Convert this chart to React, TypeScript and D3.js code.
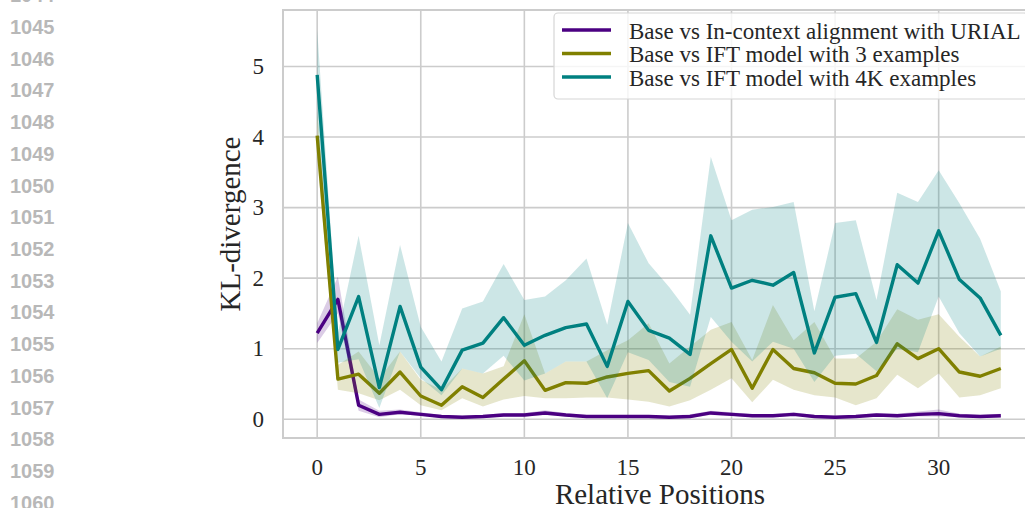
import React from "react";
import * as d3 from "d3";

// Relative positions 0..33
const positions: number[] = d3.range(0, 34);

// Base vs In-context alignment with URIAL
const urialMean = [1.22, 1.7, 0.2, 0.07, 0.1, 0.07, 0.04, 0.03, 0.04, 0.06, 0.06, 0.09, 0.06, 0.04, 0.04, 0.04, 0.04, 0.03, 0.04, 0.09, 0.07, 0.05, 0.05, 0.07, 0.04, 0.03, 0.04, 0.06, 0.05, 0.07, 0.08, 0.05, 0.04, 0.05];
const urialLow = [1.08, 1.5, 0.12, 0.03, 0.07, 0.05, 0.02, 0.01, 0.02, 0.04, 0.04, 0.06, 0.04, 0.02, 0.02, 0.02, 0.02, 0.01, 0.02, 0.06, 0.05, 0.03, 0.03, 0.05, 0.02, 0.01, 0.02, 0.04, 0.03, 0.04, 0.04, 0.03, 0.02, 0.03];
const urialHigh = [1.36, 2.02, 0.28, 0.12, 0.14, 0.1, 0.06, 0.05, 0.06, 0.09, 0.09, 0.13, 0.09, 0.06, 0.06, 0.06, 0.06, 0.05, 0.07, 0.12, 0.1, 0.07, 0.07, 0.1, 0.06, 0.05, 0.06, 0.09, 0.08, 0.11, 0.14, 0.08, 0.06, 0.08];

// Base vs IFT model with 3 examples
const ift3Mean = [4.02, 0.57, 0.64, 0.37, 0.67, 0.33, 0.2, 0.46, 0.31, 0.57, 0.83, 0.41, 0.52, 0.51, 0.6, 0.65, 0.69, 0.4, 0.58, 0.79, 0.99, 0.44, 0.99, 0.72, 0.66, 0.51, 0.5, 0.62, 1.07, 0.86, 1.0, 0.67, 0.61, 0.72];
const ift3Low = [3.7, 0.42, 0.37, 0.27, 0.42, 0.2, 0.13, 0.3, 0.18, 0.28, 0.33, 0.3, 0.3, 0.31, 0.31, 0.28, 0.25, 0.18, 0.27, 0.42, 0.58, 0.24, 0.56, 0.42, 0.34, 0.31, 0.2, 0.3, 0.63, 0.44, 0.65, 0.31, 0.34, 0.44];
const ift3High = [4.36, 0.77, 0.96, 0.58, 0.96, 0.56, 0.42, 0.72, 0.65, 0.75, 1.49, 0.65, 0.82, 0.82, 0.98, 1.12, 1.36, 0.79, 1.03, 1.27, 1.38, 0.84, 1.62, 1.12, 1.38, 0.86, 0.86, 1.1, 1.56, 1.41, 1.49, 1.17, 0.89, 1.03];

// Base vs IFT model with 4K examples
const ift4kMean = [4.88, 0.99, 1.74, 0.45, 1.6, 0.74, 0.42, 0.98, 1.08, 1.44, 1.05, 1.19, 1.3, 1.35, 0.75, 1.67, 1.26, 1.15, 0.92, 2.6, 1.86, 1.97, 1.9, 2.08, 0.94, 1.73, 1.78, 1.09, 2.19, 1.93, 2.67, 1.98, 1.72, 1.19];
const ift4kLow = [4.25, 0.8, 0.85, 0.16, 0.96, 0.58, 0.34, 0.72, 0.65, 0.9, 0.55, 0.65, 0.82, 0.82, 0.3, 0.95, 0.84, 0.53, 0.46, 1.45, 1.1, 0.82, 1.1, 1.0, 0.53, 0.9, 0.93, 0.68, 1.0, 0.95, 1.74, 1.22, 0.89, 1.0];
const ift4kHigh = [5.52, 1.22, 2.6, 1.05, 2.47, 1.31, 0.82, 1.57, 1.67, 2.2, 1.69, 1.74, 1.97, 2.28, 1.34, 2.78, 2.21, 1.87, 1.48, 3.72, 2.82, 2.97, 3.01, 3.08, 1.53, 2.78, 2.82, 1.69, 3.21, 3.08, 3.53, 3.06, 2.56, 1.81];

const seriesLabels = [
  "Base vs In-context alignment with URIAL",
  "Base vs IFT model with 3 examples",
  "Base vs IFT model with 4K examples",
];
const seriesColors = ["#4b0082", "#808000", "#008080"];

const xTicks = [0, 5, 10, 15, 20, 25, 30];
const yTicks = [0, 1, 2, 3, 4, 5];
const lineNumbers = d3.range(1044, 1061);

const W = 1025;
const H = 508;
const plot = { left: 283, right: 1035, top: 10, bottom: 438 };
const serif = "'Liberation Serif', 'Times New Roman', serif";

export default function App() {
  const x = d3.scaleLinear().domain([-1.65, 34.65]).range([plot.left, plot.right]);
  const y = d3.scaleLinear().domain([-0.265, 5.8]).range([plot.bottom, plot.top]);

  const series = [
    { mean: urialMean, low: urialLow, high: urialHigh },
    { mean: ift3Mean, low: ift3Low, high: ift3High },
    { mean: ift4kMean, low: ift4kLow, high: ift4kHigh },
  ];

  const line = d3
    .line<number>()
    .x((_, i) => x(positions[i]))
    .y((d) => y(d));

  const band = (low: number[], high: number[]) =>
    d3
      .area<number>()
      .x((_, i) => x(positions[i]))
      .y0((_, i) => y(low[i]))
      .y1((_, i) => y(high[i]))(positions) || "";

  const lineNumY = d3.scaleLinear().domain([1045, 1052]).range([27, 249]);

  return (
    <svg
      width={W}
      height={H}
      style={{ position: "absolute", left: 0, top: 0, background: "#fff" }}
    >
      <defs>
        <clipPath id="plot-area">
          <rect x={plot.left} y={plot.top} width={plot.right - plot.left} height={plot.bottom - plot.top} />
        </clipPath>
      </defs>

      {/* manuscript line numbers in the margin */}
      {lineNumbers.map((n) => (
        <text
          key={n}
          x={10}
          y={lineNumY(n)}
          dominantBaseline="central"
          fill="#b8b8b8"
          fontFamily="'Liberation Sans', Arial, sans-serif"
          fontWeight="bold"
          fontSize={20}
        >
          {n}
        </text>
      ))}

      {/* grid */}
      <g stroke="#cccccc" strokeWidth={1.6}>
        {xTicks.map((t) => (
          <line key={`gx${t}`} x1={x(t)} x2={x(t)} y1={plot.top} y2={plot.bottom} />
        ))}
        {yTicks.map((t) => (
          <line key={`gy${t}`} x1={plot.left} x2={plot.right} y1={y(t)} y2={y(t)} />
        ))}
      </g>

      {/* series: line then its confidence band */}
      <g clipPath="url(#plot-area)">
        {series.map((s, k) => (
          <g key={k}>
            <path d={line(s.mean) || ""} fill="none" stroke={seriesColors[k]} strokeWidth={3.4} strokeLinejoin="round" />
            <path d={band(s.low, s.high)} fill={seriesColors[k]} fillOpacity={0.2} stroke="none" />
          </g>
        ))}
      </g>

      {/* frame */}
      <rect
        x={plot.left}
        y={plot.top}
        width={plot.right - plot.left}
        height={plot.bottom - plot.top}
        fill="none"
        stroke="#cccccc"
        strokeWidth={2}
      />

      {/* tick labels */}
      {xTicks.map((t) => (
        <text key={`tx${t}`} x={x(t)} y={467} textAnchor="middle" dominantBaseline="central" fontFamily={serif} fontSize={23} fill="#262626">
          {t}
        </text>
      ))}
      {yTicks.map((t) => (
        <text key={`ty${t}`} x={264} y={y(t)} textAnchor="end" dominantBaseline="central" fontFamily={serif} fontSize={23} fill="#262626">
          {t}
        </text>
      ))}

      {/* axis titles */}
      <text x={660} y={494} textAnchor="middle" dominantBaseline="central" fontFamily={serif} fontSize={29} fill="#262626">
        Relative Positions
      </text>
      <text
        transform={`translate(230, ${(plot.top + plot.bottom) / 2}) rotate(-90)`}
        textAnchor="middle"
        dominantBaseline="central"
        fontFamily={serif}
        fontSize={29}
        fill="#262626"
      >
        KL-divergence
      </text>

      {/* legend */}
      <g>
        <rect x={554} y={13} width={474} height={86} rx={4} fill="#ffffff" fillOpacity={0.8} stroke="#d6d6d6" strokeWidth={1.2} />
        {seriesLabels.map((label, k) => (
          <g key={label} transform={`translate(0, ${30 + k * 23.5})`}>
            <line x1={562} x2={611} y1={0} y2={0} stroke={seriesColors[k]} strokeWidth={3.4} />
            <text x={629} y={1} dominantBaseline="central" fontFamily={serif} fontSize={23} fill="#262626">
              {label}
            </text>
          </g>
        ))}
      </g>
    </svg>
  );
}
